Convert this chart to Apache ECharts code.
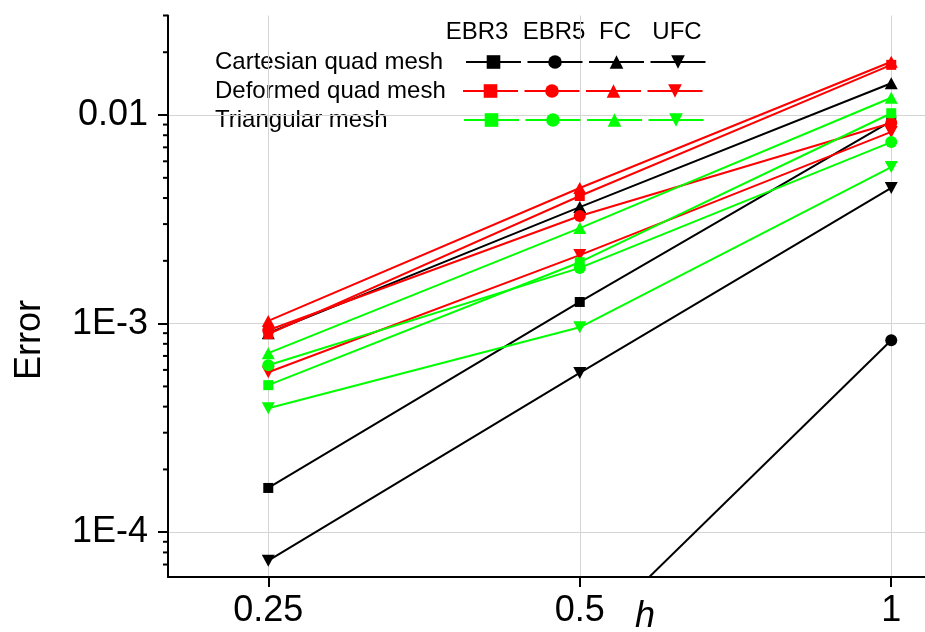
<!DOCTYPE html>
<html>
<head>
<meta charset="utf-8">
<script src="https://cdn.jsdelivr.net/npm/echarts@6/dist/echarts.min.js"></script>
<style>
  html, body { margin: 0; padding: 0; background: #fff; }
  #chart { width: 925px; height: 632px; }
</style>
</head>
<body>
<div id="chart"></div>
<script>
// mesh size h and the error values
const hValues = [0.25, 0.5, 1];

const cartEBR3 = [1.63e-4, 1.27e-3, 9.36e-3];
const cartEBR5 = [null, 2.88e-5, 8.33e-4];
const cartFC = [9.0e-4, 3.62e-3, 1.42e-2];
const cartUFC = [7.3e-5, 5.8e-4, 4.47e-3];

const defEBR3 = [8.9e-4, 4.09e-3, 1.74e-2];
const defEBR5 = [9.3e-4, 3.28e-3, 9.15e-3];
const defFC = [1.03e-3, 4.47e-3, 1.8e-2];
const defUFC = [5.85e-4, 2.13e-3, 8.3e-3];

const triEBR3 = [5.07e-4, 1.97e-3, 1.02e-2];
const triEBR5 = [6.32e-4, 1.85e-3, 7.42e-3];
const triFC = [7.22e-4, 2.87e-3, 1.21e-2];
const triUFC = [3.93e-4, 9.6e-4, 5.63e-3];

const schemes = ['EBR3', 'EBR5', 'FC', 'UFC'];
const meshNames = ['Cartesian quad mesh', 'Deformed quad mesh', 'Triangular mesh'];
const meshColors = ['#000000', '#ff0000', '#00ff00'];
const meshData = [
  [cartEBR3, cartEBR5, cartFC, cartUFC],
  [defEBR3, defEBR5, defFC, defUFC],
  [triEBR3, triEBR5, triFC, triUFC]
];

const xTicks = [0.25, 0.5, 1];
const yTicks = [1e-4, 1e-3, 1e-2];
const yMinorTicks = [7e-5, 8e-5, 9e-5,
  2e-4, 3e-4, 4e-4, 5e-4, 6e-4, 7e-4, 8e-4, 9e-4,
  2e-3, 3e-3, 4e-3, 5e-3, 6e-3, 7e-3, 8e-3, 9e-3,
  2e-2, 3e-2];

const X_MIN = 0.2, X_MAX = 1.078;
const Y_MIN = 6.1e-5, Y_MAX = 0.03;

const symbols = ['rect', 'circle', 'triangle', 'path://M0,0L10,0L5,10Z'];
const symbolSizes = [10, 12, [13, 12], [13, 12]];

const FONT = '"Liberation Sans", Arial, sans-serif';

const chart = echarts.init(document.getElementById('chart'), null, { renderer: 'canvas' });

const series = [];
const legends = [];
meshNames.forEach((mesh, m) => {
  const names = [];
  schemes.forEach((sc, s) => {
    const name = mesh + ' ' + sc;
    names.push(name);
    series.push({
      name: name,
      type: 'line',
      data: hValues.map((h, i) => [h, meshData[m][s][i]]),
      symbol: symbols[s],
      symbolSize: symbolSizes[s],
      showAllSymbol: true,
      color: meshColors[m],
      lineStyle: { color: meshColors[m], width: 2 },
      itemStyle: { color: meshColors[m] },
      z: 2 + m,
      clip: true
    });
  });
  legends.push({
    data: names,
    orient: 'horizontal',
    left: [465, 462, 463][m],
    top: [62, 91, 120][m] - 8.5,
    padding: 0,
    itemWidth: 55,
    itemHeight: 17,
    itemGap: 4.5,
    selectedMode: false,
    formatter: () => '',
    textStyle: { fontSize: 1 }
  });
});

// minor ticks of the log y axis (2..9 of each decade), drawn outward from the axis line
series.push({
  type: 'custom',
  silent: true,
  clip: false,
  z: 10,
  data: yMinorTicks.map(v => [X_MIN, v]),
  renderItem: (params, api) => {
    const p = api.coord([api.value(0), api.value(1)]);
    return {
      type: 'line',
      shape: { x1: p[0] - 5, y1: p[1], x2: p[0], y2: p[1] },
      style: { stroke: '#000', lineWidth: 2 }
    };
  }
});

const graphicTexts = [];
const headerX = [477, 554, 615, 677];
schemes.forEach((sc, i) => {
  graphicTexts.push({
    type: 'text', x: headerX[i], y: 32,
    style: { text: sc, font: '24px ' + FONT, fill: '#000', align: 'center', verticalAlign: 'middle' }
  });
});
meshNames.forEach((mesh, m) => {
  graphicTexts.push({
    type: 'text', x: 215, y: [62, 91, 120][m],
    style: { text: mesh, font: '24px ' + FONT, fill: '#000', align: 'left', verticalAlign: 'middle' }
  });
});
graphicTexts.push({
  type: 'text', x: 30, y: 340, rotation: Math.PI / 2,
  style: { text: 'Error', font: '36px ' + FONT, fill: '#000', align: 'center', verticalAlign: 'middle' }
});
graphicTexts.push({
  type: 'text', x: 645, y: 617,
  style: { text: 'h', font: 'italic 36px ' + FONT, fill: '#000', align: 'center', verticalAlign: 'middle' }
});

const option = {
  animation: false,
  backgroundColor: '#ffffff',
  grid: { left: 168, top: 15.5, right: 0, bottom: 55, containLabel: false },
  legend: legends,
  xAxis: {
    type: 'log',
    logBase: 2,
    min: X_MIN,
    max: X_MAX,
    axisLine: { show: true, onZero: false, lineStyle: { color: '#000', width: 2 } },
    axisTick: { show: true, inside: false, length: 10, customValues: xTicks, lineStyle: { color: '#000', width: 2 } },
    axisLabel: {
      show: true, margin: 16, customValues: xTicks,
      color: '#000', fontSize: 36, fontFamily: FONT,
      formatter: v => String(v)
    },
    splitLine: { show: true, lineStyle: { color: '#d4d4d4', width: 1 } }
  },
  yAxis: {
    type: 'log',
    logBase: 10,
    min: Y_MIN,
    max: Y_MAX,
    axisLine: { show: true, onZero: false, lineStyle: { color: '#000', width: 2 } },
    axisTick: { show: true, inside: false, length: 10, customValues: yTicks, lineStyle: { color: '#000', width: 2 } },
    axisLabel: {
      show: true, margin: 20, customValues: yTicks,
      color: '#000', fontSize: 36, fontFamily: FONT,
      formatter: v => (Math.abs(v - 0.01) < 1e-9 ? '0.01' : '1E' + Math.round(Math.log10(v)))
    },
    splitLine: { show: true, lineStyle: { color: '#d4d4d4', width: 1 } }
  },
  graphic: graphicTexts,
  series: series
};

chart.setOption(option);
</script>
</body>
</html>
